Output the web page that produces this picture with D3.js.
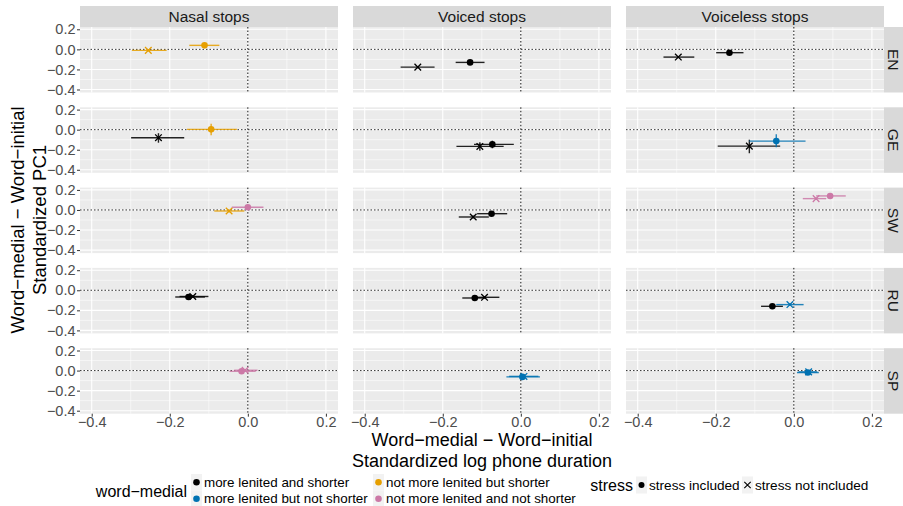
<!DOCTYPE html>
<html>
<head>
<meta charset="utf-8">
<script src="https://cdn.jsdelivr.net/npm/d3@7"></script>
<style>
  body { margin: 0; background: #fff; }
  svg { font-family: "Liberation Sans", Arial, sans-serif; }
</style>
</head>
<body>
<svg id="chart"></svg>
<script>
// facets
var manners = ["Nasal stops", "Voiced stops", "Voiceless stops"];
var languages = ["EN", "GE", "SW", "RU", "SP"];
var groups = ["more lenited and shorter", "more lenited but not shorter",
              "not more lenited but shorter", "not more lenited and not shorter"];
var groupColors = ["#000000", "#0072B2", "#E69F00", "#CC79A7"];
var stressLevels = ["stress included", "stress not included"];
var ticks = [-0.4, -0.2, 0.0, 0.2];
var minorTicks = [-0.3, -0.1, 0.1];

// one entry per point (lang idx, manner idx, group idx, stress idx)
var ptLang   = [0,0,0,0,0,0, 1,1,1,1,1,1, 2,2,2,2,2,2, 3,3,3,3,3,3, 4,4,4,4,4,4];
var ptManner = [0,0,1,1,2,2, 0,0,1,1,2,2, 0,0,1,1,2,2, 0,0,1,1,2,2, 0,0,1,1,2,2];
var ptGroup  = [2,2,0,0,0,0, 0,2,0,0,0,1, 2,3,0,0,3,3, 0,0,0,0,0,1, 3,3,1,1,1,1];
var ptStress = [1,0,1,0,1,0, 1,0,1,0,1,0, 1,0,1,0,1,0, 0,1,0,1,0,1, 0,1,0,1,0,1];
var durMean = [-0.255,-0.111,-0.264,-0.130,-0.296,-0.165, -0.229,-0.094,-0.105,-0.073,-0.114,-0.045,
               -0.048,0.000,-0.122,-0.075,0.057,0.093, -0.152,-0.141,-0.118,-0.093,-0.055,-0.010,
               -0.016,-0.007,0.004,0.008,0.036,0.038];
var durLo   = [-0.297,-0.150,-0.308,-0.167,-0.334,-0.199, -0.299,-0.156,-0.165,-0.120,-0.195,-0.114,
               -0.086,-0.041,-0.159,-0.112,0.023,0.057, -0.186,-0.175,-0.150,-0.115,-0.084,-0.045,
               -0.047,-0.035,-0.037,-0.030,0.008,0.012];
var durHi   = [-0.208,-0.073,-0.221,-0.093,-0.255,-0.129, -0.163,-0.028,-0.044,-0.018,-0.035,0.030,
               -0.009,0.040,-0.082,-0.035,0.083,0.133, -0.110,-0.101,-0.090,-0.055,-0.028,0.025,
               0.020,0.025,0.049,0.045,0.064,0.060];
var pcMean  = [-0.010,0.040,-0.177,-0.130,-0.077,-0.033, -0.080,0.003,-0.167,-0.147,-0.164,-0.114,
               -0.010,0.027,-0.070,-0.037,0.113,0.140, -0.067,-0.062,-0.077,-0.070,-0.160,-0.143,
               -0.007,0.003,-0.063,-0.058,-0.020,-0.013];
var pcLo    = [-0.020,0.030,-0.187,-0.140,-0.087,-0.043, -0.130,-0.055,-0.210,-0.185,-0.235,-0.175,
               -0.025,0.012,-0.085,-0.050,0.100,0.128, -0.080,-0.075,-0.090,-0.082,-0.172,-0.155,
               -0.020,-0.010,-0.078,-0.072,-0.030,-0.023];
var pcHi    = [0.000,0.050,-0.167,-0.120,-0.067,-0.023, -0.035,0.060,-0.125,-0.110,-0.100,-0.045,
               0.005,0.042,-0.055,-0.024,0.126,0.152, -0.054,-0.050,-0.064,-0.058,-0.148,-0.130,
               0.005,0.015,-0.048,-0.045,-0.010,-0.003];

var width = 903, height = 506;
var svg = d3.select("#chart").attr("width", width).attr("height", height);

var panelW = 258, panelH = 65.5;
var colX = [80, 353, 626];
var rowY = [27, 107.3, 187.6, 267.9, 348.2];

var x = d3.scaleLinear().domain([-0.43, 0.231]).range([0, panelW]);
var y = d3.scaleLinear().domain([-0.43, 0.223]).range([panelH, 0]);
var fmt = d3.format(".1f");

// top strips
manners.forEach(function (m, c) {
  svg.append("rect").attr("x", colX[c]).attr("y", 6).attr("width", panelW).attr("height", 21)
    .attr("fill", "#D9D9D9");
  svg.append("text").attr("x", colX[c] + panelW / 2).attr("y", 17).attr("dy", "0.35em")
    .attr("text-anchor", "middle").attr("font-size", 15.5).attr("fill", "#1A1A1A").text(m);
});

// right strips
languages.forEach(function (l, r) {
  svg.append("rect").attr("x", 884).attr("y", rowY[r]).attr("width", 19).attr("height", panelH)
    .attr("fill", "#D9D9D9");
  svg.append("text")
    .attr("transform", "translate(" + 893.5 + "," + (rowY[r] + panelH / 2) + ") rotate(90)")
    .attr("dy", "0.35em").attr("text-anchor", "middle").attr("font-size", 15.5)
    .attr("fill", "#1A1A1A").text(l);
});

var cross = function (s) {
  return "M" + (-s) + "," + (-s) + "L" + s + "," + s + "M" + (-s) + "," + s + "L" + s + "," + (-s);
};

languages.forEach(function (l, r) {
  manners.forEach(function (m, c) {
    var g = svg.append("g").attr("transform", "translate(" + colX[c] + "," + rowY[r] + ")");
    g.append("rect").attr("width", panelW).attr("height", panelH).attr("fill", "#EBEBEB");

    minorTicks.forEach(function (t) {
      g.append("line").attr("x1", x(t)).attr("x2", x(t)).attr("y1", 0).attr("y2", panelH)
        .attr("stroke", "#fff").attr("stroke-width", 0.55);
      g.append("line").attr("y1", y(t)).attr("y2", y(t)).attr("x1", 0).attr("x2", panelW)
        .attr("stroke", "#fff").attr("stroke-width", 0.55);
    });
    ticks.forEach(function (t) {
      g.append("line").attr("x1", x(t)).attr("x2", x(t)).attr("y1", 0).attr("y2", panelH)
        .attr("stroke", "#fff").attr("stroke-width", 1.1);
      g.append("line").attr("y1", y(t)).attr("y2", y(t)).attr("x1", 0).attr("x2", panelW)
        .attr("stroke", "#fff").attr("stroke-width", 1.1);
    });

    // reference lines
    g.append("line").attr("x1", 0).attr("x2", panelW).attr("y1", y(0)).attr("y2", y(0))
      .attr("stroke", "#333").attr("stroke-width", 1).attr("stroke-dasharray", "1.5,2");
    g.append("line").attr("x1", x(0)).attr("x2", x(0)).attr("y1", 0).attr("y2", panelH)
      .attr("stroke", "#111").attr("stroke-width", 1).attr("stroke-dasharray", "1.5,2");

    if (c === 0) {
      var ay = g.append("g").call(d3.axisLeft(y).tickValues(ticks).tickSize(3).tickFormat(fmt));
      ay.select(".domain").remove();
      ay.selectAll("line").attr("stroke", "#333");
      ay.selectAll("text").attr("font-size", 14.5).attr("fill", "#4D4D4D")
        .attr("font-family", "Liberation Sans, Arial, sans-serif").attr("x", -4.5);
    }
    if (r === languages.length - 1) {
      var ax = g.append("g").attr("transform", "translate(0," + panelH + ")")
        .call(d3.axisBottom(x).tickValues(ticks).tickSize(3).tickFormat(fmt));
      ax.select(".domain").remove();
      ax.selectAll("line").attr("stroke", "#333");
      ax.selectAll("text").attr("font-size", 14.5).attr("fill", "#4D4D4D")
        .attr("font-family", "Liberation Sans, Arial, sans-serif").attr("y", 3);
    }

    var idx = d3.range(ptLang.length).filter(function (i) {
      return ptLang[i] === r && ptManner[i] === c;
    });
    idx.forEach(function (i) {
      var col = groupColors[ptGroup[i]];
      g.append("line").attr("x1", x(durLo[i])).attr("x2", x(durHi[i]))
        .attr("y1", y(pcMean[i])).attr("y2", y(pcMean[i]))
        .attr("stroke", col).attr("stroke-width", 1.4).attr("opacity", 0.85);
      g.append("line").attr("x1", x(durMean[i])).attr("x2", x(durMean[i]))
        .attr("y1", y(pcLo[i])).attr("y2", y(pcHi[i]))
        .attr("stroke", col).attr("stroke-width", 1.4).attr("opacity", 0.85);
      if (ptStress[i] === 0) {
        g.append("circle").attr("cx", x(durMean[i])).attr("cy", y(pcMean[i])).attr("r", 3.3)
          .attr("fill", col);
      } else {
        g.append("path").attr("transform", "translate(" + x(durMean[i]) + "," + y(pcMean[i]) + ")")
          .attr("d", cross(3.3)).attr("stroke", col).attr("stroke-width", 1.3).attr("fill", "none");
      }
    });
  });
});

// axis titles
svg.append("text").attr("x", 482).attr("y", 440).attr("dy", "0.35em").attr("text-anchor", "middle")
  .attr("font-size", 18).text("Word\u2212medial \u2212 Word\u2212initial");
svg.append("text").attr("x", 482).attr("y", 460.5).attr("dy", "0.35em").attr("text-anchor", "middle")
  .attr("font-size", 18).text("Standardized log phone duration");
svg.append("text").attr("transform", "translate(18,220) rotate(-90)").attr("dy", "0.35em")
  .attr("text-anchor", "middle").attr("font-size", 18.5).text("Word\u2212medial \u2212 Word\u2212initial");
svg.append("text").attr("transform", "translate(40,220) rotate(-90)").attr("dy", "0.35em")
  .attr("text-anchor", "middle").attr("font-size", 18.5).text("Standardized PC1");

// legend: word-medial
svg.append("text").attr("x", 187).attr("y", 491).attr("dy", "0.35em").attr("text-anchor", "end")
  .attr("font-size", 16).text("word\u2212medial");
var legX = [191, 373], legY = [474, 490.5];
groups.forEach(function (gname, k) {
  var cx = legX[Math.floor(k / 2)], cy = legY[k % 2];
  svg.append("rect").attr("x", cx).attr("y", cy).attr("width", 11).attr("height", 16.5).attr("fill", "#F2F2F2");
  svg.append("circle").attr("cx", cx + 5.5).attr("cy", cy + 8.25).attr("r", 3.3).attr("fill", groupColors[k]);
  svg.append("text").attr("x", cx + 13).attr("y", cy + 8.25).attr("dy", "0.35em")
    .attr("font-size", 13.4).text(gname);
});

// legend: stress
svg.append("text").attr("x", 633).attr("y", 485).attr("dy", "0.35em").attr("text-anchor", "end")
  .attr("font-size", 16).text("stress");
var stressX = [636, 742];
stressLevels.forEach(function (s, k) {
  var sx = stressX[k];
  svg.append("rect").attr("x", sx).attr("y", 476.5).attr("width", 11).attr("height", 17).attr("fill", "#F2F2F2");
  if (k === 0) {
    svg.append("circle").attr("cx", sx + 5.5).attr("cy", 485).attr("r", 3).attr("fill", "#000");
  } else {
    svg.append("path").attr("transform", "translate(" + (sx + 5.5) + ",485)").attr("d", cross(3.2))
      .attr("stroke", "#000").attr("stroke-width", 1.1).attr("fill", "none");
  }
  svg.append("text").attr("x", sx + 13).attr("y", 485).attr("dy", "0.35em")
    .attr("font-size", 13.6).text(s);
});
</script>
</body>
</html>
